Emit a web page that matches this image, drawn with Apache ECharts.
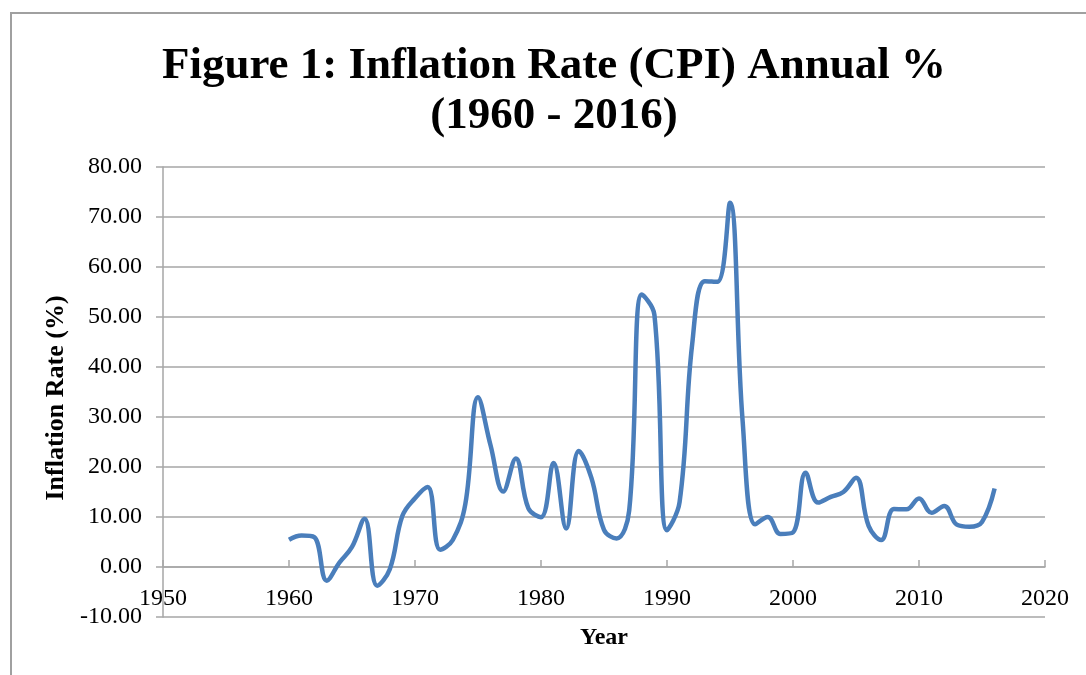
<!DOCTYPE html>
<html lang="en">
<head>
    <meta charset="UTF-8">
    <title>Inflation Rate</title>
    <script src="https://cdn.jsdelivr.net/npm/echarts@6/dist/echarts.min.js"></script>
</head>
<body>
<div id="chart"></div>
</body>
<style>
    * {
        padding: 0;
        margin: 0;
    }

    html, body {
        width: 100%;
        height: 100%;
        background-color: white;
        overflow: hidden;
    }

    #chart {
        width: 1086px;
        height: 675px;
    }
</style>
<script>

    const years = [1960, 1961, 1962, 1963, 1964, 1965, 1966, 1967, 1968, 1969,
        1970, 1971, 1972, 1973, 1974, 1975, 1976, 1977, 1978, 1979,
        1980, 1981, 1982, 1983, 1984, 1985, 1986, 1987, 1988, 1989,
        1990, 1991, 1992, 1993, 1994, 1995, 1996, 1997, 1998, 1999,
        2000, 2001, 2002, 2003, 2004, 2005, 2006, 2007, 2008, 2009,
        2010, 2011, 2012, 2013, 2014, 2015, 2016]
    const inflation = [5.44, 6.28, 5.97, -2.73, 0.88, 4.01, 9.67, -3.73, -0.45, 10.23,
        13.76, 16.0, 3.46, 5.40, 12.67, 33.96, 24.30, 15.09, 21.71, 11.71,
        9.97, 20.81, 7.70, 23.21, 17.82, 7.44, 5.72, 11.29, 54.51, 50.47,
        7.36, 13.01, 44.59, 57.17, 57.03, 72.84, 29.27, 8.53, 9.99, 6.62,
        6.93, 18.87, 12.88, 14.03, 15.00, 17.86, 8.24, 5.38, 11.58, 11.54,
        13.72, 10.84, 12.22, 8.48, 8.06, 9.01, 15.68]

    const serif = "'Liberation Serif', 'Times New Roman', serif"
    const gray = "#a6a6a6"

    let chart = echarts.init(document.getElementById("chart"))

    chart.setOption({
        animation: false,
        textStyle: {fontFamily: serif},
        title: {
            text: "Figure 1: Inflation Rate (CPI) Annual %\n(1960 - 2016)",
            left: 549,
            textAlign: "center",
            top: 36,
            textStyle: {
                fontFamily: serif,
                fontSize: 45,
                fontWeight: "bold",
                color: "#000",
                lineHeight: 50
            }
        },
        graphic: [{
            type: "rect",
            shape: {x: 11, y: 13, width: 1100, height: 700},
            style: {fill: null, stroke: "#a0a0a0", lineWidth: 2}
        }],
        grid: {left: 163, right: 41, top: 167, bottom: 58, outerBoundsMode: "none", containLabel: false},
        xAxis: {
            type: "value",
            position: "bottom",
            offset: -50, // axis sits on the 0 line, labels just below it
            min: 1950,
            max: 2020,
            interval: 10,
            name: "Year",
            nameLocation: "middle",
            nameGap: 59,
            nameTextStyle: {fontFamily: serif, fontSize: 24, fontWeight: "bold", color: "#000"},
            axisLine: {onZero: false, lineStyle: {color: gray, width: 1.5}},
            axisTick: {show: true, inside: true, length: 7, lineStyle: {color: gray, width: 1.5}},
            axisLabel: {fontFamily: serif, fontSize: 24, color: "#000", margin: 20, formatter: (v) => String(v)},
            splitLine: {show: false}
        },
        yAxis: {
            type: "value",
            min: -10,
            max: 80,
            interval: 10,
            name: "Inflation Rate (%)",
            nameLocation: "middle",
            nameRotate: 90,
            nameGap: 92,
            nameTextStyle: {fontFamily: serif, fontSize: 26, fontWeight: "bold", color: "#000", padding: [0, 12, 0, 0]},
            axisLine: {show: true, lineStyle: {color: gray, width: 1.5}},
            axisTick: {show: true, length: 7, lineStyle: {color: gray, width: 1.5}},
            axisLabel: {
                fontFamily: serif, fontSize: 24, color: "#000", margin: 21,
                formatter: (v) => v.toFixed(2)
            },
            splitLine: {show: true, lineStyle: {color: gray, width: 1.5}}
        },
        series: [{
            type: "line",
            data: years.map((y, i) => [y, inflation[i]]),
            smooth: 0.4,
            symbol: "none",
            lineStyle: {color: "#4a7ebb", width: 4.5}
        }]
    })

</script>
</html>
